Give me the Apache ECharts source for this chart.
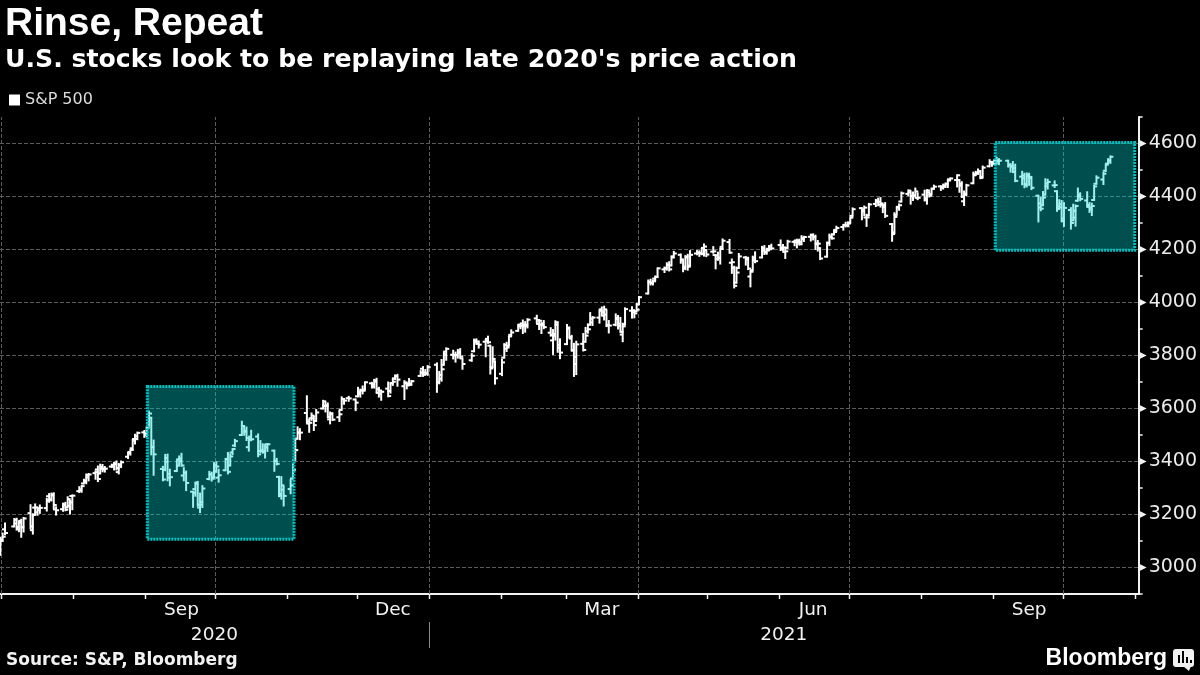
<!DOCTYPE html>
<html><head><meta charset="utf-8">
<script src="https://cdn.jsdelivr.net/npm/echarts@6/dist/echarts.min.js"></script>
<style>html,body{margin:0;padding:0;background:#000;}#c{width:1200px;height:675px;}</style>
</head><body><div id="c"></div>
<script>
// ---- data (S&P 500 daily bars) ----
const dates = [
'2020-06-30','2020-07-01','2020-07-02','2020-07-06','2020-07-07','2020-07-08','2020-07-09','2020-07-10','2020-07-13','2020-07-14','2020-07-15','2020-07-16','2020-07-17','2020-07-20','2020-07-21','2020-07-22','2020-07-23','2020-07-24','2020-07-27','2020-07-28','2020-07-29','2020-07-30','2020-07-31',
'2020-08-03','2020-08-04','2020-08-05','2020-08-06','2020-08-07','2020-08-10','2020-08-11','2020-08-12','2020-08-13','2020-08-14','2020-08-17','2020-08-18','2020-08-19','2020-08-20','2020-08-21','2020-08-24','2020-08-25','2020-08-26','2020-08-27','2020-08-28','2020-08-31',
'2020-09-01','2020-09-02','2020-09-03','2020-09-04','2020-09-08','2020-09-09','2020-09-10','2020-09-11','2020-09-14','2020-09-15','2020-09-16','2020-09-17','2020-09-18','2020-09-21','2020-09-22','2020-09-23','2020-09-24','2020-09-25','2020-09-28','2020-09-29','2020-09-30',
'2020-10-01','2020-10-02','2020-10-05','2020-10-06','2020-10-07','2020-10-08','2020-10-09','2020-10-12','2020-10-13','2020-10-14','2020-10-15','2020-10-16','2020-10-19','2020-10-20','2020-10-21','2020-10-22','2020-10-23','2020-10-26','2020-10-27','2020-10-28','2020-10-29','2020-10-30',
'2020-11-02','2020-11-03','2020-11-04','2020-11-05','2020-11-06','2020-11-09','2020-11-10','2020-11-11','2020-11-12','2020-11-13','2020-11-16','2020-11-17','2020-11-18','2020-11-19','2020-11-20','2020-11-23','2020-11-24','2020-11-25','2020-11-27','2020-11-30',
'2020-12-01','2020-12-02','2020-12-03','2020-12-04','2020-12-07','2020-12-08','2020-12-09','2020-12-10','2020-12-11','2020-12-14','2020-12-15','2020-12-16','2020-12-17','2020-12-18','2020-12-21','2020-12-22','2020-12-23','2020-12-24','2020-12-28','2020-12-29','2020-12-30','2020-12-31',
'2021-01-04','2021-01-05','2021-01-06','2021-01-07','2021-01-08','2021-01-11','2021-01-12','2021-01-13','2021-01-14','2021-01-15','2021-01-19','2021-01-20','2021-01-21','2021-01-22','2021-01-25','2021-01-26','2021-01-27','2021-01-28','2021-01-29',
'2021-02-01','2021-02-02','2021-02-03','2021-02-04','2021-02-05','2021-02-08','2021-02-09','2021-02-10','2021-02-11','2021-02-12','2021-02-16','2021-02-17','2021-02-18','2021-02-19','2021-02-22','2021-02-23','2021-02-24','2021-02-25','2021-02-26',
'2021-03-01','2021-03-02','2021-03-03','2021-03-04','2021-03-05','2021-03-08','2021-03-09','2021-03-10','2021-03-11','2021-03-12','2021-03-15','2021-03-16','2021-03-17','2021-03-18','2021-03-19','2021-03-22','2021-03-23','2021-03-24','2021-03-25','2021-03-26','2021-03-29','2021-03-30','2021-03-31',
'2021-04-01','2021-04-05','2021-04-06','2021-04-07','2021-04-08','2021-04-09','2021-04-12','2021-04-13','2021-04-14','2021-04-15','2021-04-16','2021-04-19','2021-04-20','2021-04-21','2021-04-22','2021-04-23','2021-04-26','2021-04-27','2021-04-28','2021-04-29','2021-04-30',
'2021-05-03','2021-05-04','2021-05-05','2021-05-06','2021-05-07','2021-05-10','2021-05-11','2021-05-12','2021-05-13','2021-05-14','2021-05-17','2021-05-18','2021-05-19','2021-05-20','2021-05-21','2021-05-24','2021-05-25','2021-05-26','2021-05-27','2021-05-28',
'2021-06-01','2021-06-02','2021-06-03','2021-06-04','2021-06-07','2021-06-08','2021-06-09','2021-06-10','2021-06-11','2021-06-14','2021-06-15','2021-06-16','2021-06-17','2021-06-18','2021-06-21','2021-06-22','2021-06-23','2021-06-24','2021-06-25','2021-06-28','2021-06-29','2021-06-30',
'2021-07-01','2021-07-02','2021-07-06','2021-07-07','2021-07-08','2021-07-09','2021-07-12','2021-07-13','2021-07-14','2021-07-15','2021-07-16','2021-07-19','2021-07-20','2021-07-21','2021-07-22','2021-07-23','2021-07-26','2021-07-27','2021-07-28','2021-07-29','2021-07-30',
'2021-08-02','2021-08-03','2021-08-04','2021-08-05','2021-08-06','2021-08-09','2021-08-10','2021-08-11','2021-08-12','2021-08-13','2021-08-16','2021-08-17','2021-08-18','2021-08-19','2021-08-20','2021-08-23','2021-08-24','2021-08-25','2021-08-26','2021-08-27','2021-08-30','2021-08-31',
'2021-09-01','2021-09-02','2021-09-03','2021-09-07','2021-09-08','2021-09-09','2021-09-10','2021-09-13','2021-09-14','2021-09-15','2021-09-16','2021-09-17','2021-09-20','2021-09-21','2021-09-22','2021-09-23','2021-09-24','2021-09-27','2021-09-28','2021-09-29','2021-09-30',
'2021-10-01','2021-10-04','2021-10-05','2021-10-06','2021-10-07','2021-10-08','2021-10-11','2021-10-12','2021-10-13','2021-10-14','2021-10-15','2021-10-18','2021-10-19','2021-10-20','2021-10-21'
];
const opens = [
3050,3106,3144,3155,3166,3153,3176,3152,3205,3141,3226,3208,3224,3224,3269,3255,3272,3219,3220,3234,3227,3232,3270,
3288,3290,3317,3323,3340,3356,3370,3355,3373,3369,3381,3387,3393,3360,3386,3418,3436,3450,3485,3495,3510,
3507,3544,3565,3454,3372,3369,3413,3353,3364,3408,3411,3347,3357,3286,3296,3320,3226,3237,3334,3351,3341,
3386,3339,3367,3409,3385,3434,3460,3500,3534,3515,3454,3494,3494,3439,3440,3439,3465,3441,3403,3342,3277,3294,
3296,3336,3406,3486,3508,3583,3543,3563,3563,3553,3600,3610,3612,3559,3579,3567,3595,3636,3639,3634,
3646,3654,3668,3671,3695,3683,3706,3659,3656,3675,3666,3696,3714,3722,3684,3698,3693,3694,3723,3750,3736,3733,
3765,3698,3712,3765,3815,3803,3802,3802,3815,3789,3782,3816,3857,3844,3852,3863,3837,3756,3778,
3731,3792,3840,3837,3878,3893,3910,3921,3916,3912,3940,3919,3916,3921,3886,3857,3874,3916,3840,
3843,3904,3864,3819,3794,3844,3852,3892,3916,3925,3943,3974,3950,3954,3913,3916,3938,3920,3879,3917,3969,3963,3967,
3993,4034,4076,4074,4090,4096,4125,4130,4142,4140,4174,4180,4159,4128,4170,4139,4185,4188,4185,4206,4198,
4192,4179,4177,4169,4210,4228,4150,4131,4075,4130,4170,4166,4098,4122,4169,4170,4206,4192,4202,4211,
4217,4207,4191,4206,4229,4234,4233,4229,4243,4248,4255,4249,4220,4205,4173,4225,4249,4257,4274,4285,4293,4291,
4301,4327,4356,4351,4321,4329,4372,4381,4380,4369,4367,4296,4265,4331,4361,4381,4410,4416,4403,4404,4395,
4407,4393,4416,4409,4429,4438,4436,4442,4446,4465,4462,4462,4441,4382,4411,4450,4484,4490,4494,4474,4514,4530,
4529,4534,4532,4535,4518,4513,4507,4475,4479,4447,4477,4470,4403,4374,4367,4407,4438,4442,4420,4362,4371,
4317,4349,4310,4320,4384,4407,4385,4368,4358,4387,4448,4464,4497,4524,4532
];
const highs = [
3112,3128,3166,3183,3184,3172,3180,3187,3235,3201,3238,3220,3234,3259,3277,3279,3280,3227,3241,3244,3265,3251,3272,
3303,3307,3331,3351,3353,3363,3381,3388,3387,3379,3388,3395,3400,3391,3400,3432,3444,3481,3501,3509,3515,
3528,3588,3565,3479,3380,3425,3426,3369,3403,3419,3429,3375,3362,3286,3320,3323,3279,3307,3361,3358,3394,
3397,3369,3410,3432,3426,3447,3482,3550,3534,3528,3489,3516,3502,3477,3465,3461,3466,3441,3410,3342,3341,3305,
3330,3389,3486,3529,3522,3646,3557,3581,3569,3594,3629,3623,3619,3585,3581,3590,3642,3636,3644,3634,
3678,3671,3683,3699,3697,3708,3712,3678,3666,3698,3695,3711,3725,3727,3703,3698,3711,3704,3741,3756,3745,3760,
3770,3738,3783,3812,3827,3818,3811,3821,3824,3789,3805,3860,3861,3852,3859,3871,3837,3831,3778,
3784,3843,3848,3872,3895,3916,3918,3932,3926,3937,3950,3934,3922,3930,3903,3896,3929,3925,3861,
3915,3906,3874,3844,3852,3881,3904,3917,3960,3945,3970,3981,3984,3970,3930,3955,3949,3942,3920,3978,3982,3968,3994,
4021,4083,4086,4083,4098,4129,4132,4148,4152,4173,4191,4181,4159,4175,4180,4194,4194,4193,4202,4219,4198,
4209,4179,4188,4203,4238,4236,4162,4135,4132,4183,4172,4169,4117,4173,4189,4210,4213,4203,4213,4218,
4234,4217,4204,4233,4232,4237,4237,4250,4248,4256,4257,4252,4232,4205,4226,4256,4257,4271,4286,4292,4301,4302,
4321,4355,4356,4362,4331,4372,4387,4392,4394,4369,4375,4296,4337,4360,4370,4415,4423,4416,4415,4430,4412,
4422,4424,4416,4430,4441,4439,4445,4449,4462,4468,4480,4462,4454,4419,4444,4490,4493,4502,4496,4513,4537,4531,
4537,4546,4541,4535,4522,4530,4520,4493,4486,4487,4486,4472,4403,4395,4417,4465,4463,4457,4420,4386,4383,
4375,4356,4369,4366,4430,4412,4416,4375,4373,4440,4476,4489,4520,4541,4551
];
const lows = [
3048,3101,3125,3155,3143,3137,3116,3136,3149,3128,3201,3199,3206,3215,3248,3253,3223,3200,3214,3216,3227,3204,3220,
3285,3286,3317,3318,3329,3335,3326,3355,3363,3362,3379,3370,3370,3355,3379,3413,3426,3444,3468,3484,3493,
3495,3535,3427,3350,3329,3367,3329,3310,3364,3389,3384,3329,3292,3229,3271,3233,3209,3228,3333,3328,3340,
3361,3324,3367,3355,3385,3428,3458,3500,3501,3481,3441,3480,3420,3436,3433,3415,3440,3365,3389,3269,3260,3234,
3280,3336,3405,3486,3484,3547,3512,3557,3519,3553,3600,3589,3567,3544,3557,3553,3595,3618,3629,3594,
3646,3645,3657,3671,3679,3679,3661,3645,3633,3646,3660,3689,3711,3686,3636,3676,3689,3689,3723,3723,3730,3727,
3663,3695,3705,3765,3784,3789,3777,3792,3793,3750,3780,3816,3845,3830,3797,3848,3732,3756,3694,
3726,3792,3817,3837,3875,3893,3903,3885,3890,3906,3924,3900,3885,3903,3875,3806,3860,3814,3790,
3843,3869,3819,3723,3730,3819,3852,3886,3916,3915,3924,3953,3936,3911,3887,3914,3902,3889,3854,3917,3943,3944,3967,
3993,4034,4068,4068,4083,4096,4115,4124,4121,4140,4171,4150,4118,4126,4124,4139,4182,4176,4182,4177,4175,
4188,4129,4161,4147,4202,4188,4112,4057,4075,4130,4143,4126,4061,4122,4152,4170,4183,4184,4198,4204,
4198,4198,4168,4206,4216,4208,4219,4220,4232,4234,4238,4202,4196,4164,4173,4217,4241,4257,4271,4275,4287,4288,
4301,4327,4314,4330,4289,4329,4364,4367,4362,4341,4323,4233,4262,4331,4350,4381,4405,4373,4387,4404,4390,
4385,4373,4400,4409,4429,4425,4430,4436,4436,4461,4438,4418,4398,4368,4407,4450,4482,4486,4469,4474,4514,4516,
4522,4525,4522,4513,4494,4492,4458,4446,4435,4438,4444,4428,4306,4348,4367,4407,4430,4436,4346,4355,4306,
4289,4279,4310,4290,4384,4386,4361,4342,4330,4387,4448,4447,4496,4524,4527
];
const closes = [
3100,3116,3130,3180,3145,3170,3152,3185,3155,3198,3227,3216,3225,3252,3257,3276,3236,3216,3239,3218,3258,3246,3271,
3295,3307,3328,3349,3351,3360,3334,3380,3373,3373,3382,3390,3375,3386,3397,3431,3444,3479,3485,3508,3500,
3527,3581,3455,3427,3332,3399,3339,3341,3384,3401,3385,3357,3319,3281,3316,3237,3247,3298,3352,3335,3363,
3381,3348,3409,3361,3419,3447,3477,3534,3512,3489,3483,3484,3427,3443,3436,3453,3465,3401,3391,3271,3310,3270,
3310,3369,3443,3510,3509,3551,3546,3573,3537,3585,3627,3610,3568,3582,3558,3578,3635,3630,3638,3622,
3662,3669,3667,3699,3692,3702,3673,3668,3663,3647,3695,3701,3722,3709,3695,3687,3690,3703,3735,3727,3732,3756,
3701,3727,3748,3804,3825,3800,3801,3810,3796,3768,3799,3852,3853,3841,3855,3850,3751,3787,3714,
3774,3826,3830,3872,3887,3916,3911,3910,3916,3935,3933,3931,3914,3907,3877,3881,3925,3829,3811,
3902,3870,3820,3768,3842,3821,3875,3899,3939,3943,3969,3963,3974,3915,3913,3941,3911,3889,3910,3975,3971,3959,3973,
4020,4078,4074,4080,4097,4129,4128,4142,4125,4170,4185,4163,4135,4173,4135,4180,4188,4187,4183,4211,4181,
4193,4165,4168,4202,4233,4188,4152,4063,4113,4174,4163,4128,4116,4159,4156,4197,4188,4196,4201,4204,
4202,4208,4193,4230,4227,4227,4220,4239,4247,4255,4247,4224,4222,4166,4225,4246,4242,4266,4281,4291,4292,4298,
4320,4352,4344,4358,4321,4370,4385,4369,4374,4360,4327,4258,4323,4359,4367,4412,4422,4401,4401,4419,4395,
4387,4423,4403,4429,4437,4432,4437,4448,4461,4468,4480,4448,4400,4406,4442,4480,4486,4496,4470,4509,4529,4523,
4524,4537,4535,4520,4514,4493,4459,4469,4443,4481,4474,4433,4358,4354,4396,4449,4455,4443,4353,4359,4308,
4357,4300,4346,4364,4400,4391,4361,4351,4364,4438,4471,4486,4520,4536,4550
];
const seriesName = 'S&P 500';
const yGridValues = [3000, 3200, 3400, 3600, 3800, 4000, 4200, 4400, 4600];
const monthStarts = ['2020-07-01','2020-08-01','2020-09-01','2020-10-01','2020-11-01','2020-12-01','2021-01-01','2021-02-01','2021-03-01','2021-04-01','2021-05-01','2021-06-01','2021-07-01','2021-08-01','2021-09-01','2021-10-01','2021-11-01'];
const quarterStarts = ['2020-07-01','2020-10-01','2021-01-01','2021-04-01','2021-07-01','2021-10-01'];
const monthLabels = ['Sep', 'Dec', 'Mar', 'Jun', 'Sep'];
const monthLabelDates = ['2020-09-16', '2020-12-16', '2021-03-16', '2021-06-15', '2021-09-16'];
const yearLabels = ['2020', '2021'];
const yearBreak = '2021-01-01';
const boxStarts = ['2020-09-01T19:00', '2021-09-01T22:00'];
const boxEnds = ['2020-11-03T23:00', '2021-11-01T00:00'];
const boxLows = [3107, 4197];
const boxHighs = [3683, 4604];
const xStart = '2020-06-30T08:30';
const xEnd = '2021-11-02T16:00';

// ---- helpers ----
function ts(s) {
  const m = s.match(/(\d+)-(\d+)-(\d+)(?:T(\d+):(\d+))?/);
  return new Date(+m[1], +m[2] - 1, +m[3], m[4] !== undefined ? +m[4] : 12, m[5] !== undefined ? +m[5] : 0).getTime();
}
const day0 = s => ts(s + 'T00:00');

const barData = dates.map((d, i) => [ts(d), opens[i], highs[i], lows[i], closes[i]]);
const boxData = boxStarts.map((s, i) => [ts(s), ts(boxEnds[i]), boxLows[i], boxHighs[i]]);

const GRID = { left: 0, right: 61, top: 117, bottom: 81 };
const gridColor = '#5c5c5c';

const chart = echarts.init(document.getElementById('c'), null, { renderer: 'canvas' });
const option = {
  backgroundColor: '#000',
  animation: false,
  textStyle: { fontFamily: 'DejaVu Sans' },
  grid: GRID,
  legend: {
    data: [{ name: seriesName, icon: 'rect' }],
    left: 9, top: 92, padding: 0, itemWidth: 11, itemHeight: 11, itemGap: 5,
    selectedMode: false,
    textStyle: { color: '#dcdcdc', fontFamily: 'DejaVu Sans', fontSize: 16 }
  },
  xAxis: {
    type: 'time', min: ts(xStart), max: ts(xEnd),
    axisLine: { show: true, lineStyle: { color: '#f2f2f2', width: 2 } },
    axisTick: { show: false }, axisLabel: { show: false }, splitLine: { show: false }
  },
  yAxis: {
    type: 'value', position: 'right', min: 2900, max: 4700, interval: 100,
    axisLine: { show: true, lineStyle: { color: '#f2f2f2', width: 2 } },
    axisTick: { show: true, length: 4, lineStyle: { color: '#f2f2f2', width: 1.5 } },
    axisLabel: {
      margin: 10, color: '#ececec', fontFamily: 'DejaVu Sans', fontSize: 19,
      formatter: v => (yGridValues.indexOf(v) >= 0 ? String(v) : '')
    },
    splitLine: { show: false }
  },
  series: [
    {
      name: seriesName, type: 'custom', z: 3, clip: true,
      itemStyle: { color: '#ffffff' },
      encode: { x: 0, y: [1, 2, 3, 4] },
      data: barData,
      renderItem: (params, api) => {
        const x = api.value(0);
        const o = api.coord([x, api.value(1)]);
        const h = api.coord([x, api.value(2)]);
        const l = api.coord([x, api.value(3)]);
        const c = api.coord([x, api.value(4)]);
        const st = { stroke: '#ffffff', lineWidth: 2 };
        return {
          type: 'group', children: [
            { type: 'line', shape: { x1: h[0], y1: h[1] - 1, x2: l[0], y2: l[1] + 1 }, style: st },
            { type: 'line', shape: { x1: o[0] - 3, y1: o[1], x2: o[0], y2: o[1] }, style: st },
            { type: 'line', shape: { x1: c[0], y1: c[1], x2: c[0] + 3, y2: c[1] }, style: st }
          ]
        };
      },
      markLine: {
        silent: true, z: 1, symbol: ['none', 'none'], label: { show: false }, animation: false,
        lineStyle: { color: gridColor, type: [4, 2], width: 1 },
        emphasis: { disabled: true },
        data: yGridValues.map(v => ({ yAxis: v })).concat(quarterStarts.map(d => ({ xAxis: day0(d) })))
      }
    },
    {
      name: 'highlight', type: 'custom', z: 10, silent: true,
      encode: { x: [0, 1], y: [2, 3] },
      data: boxData,
      renderItem: (params, api) => {
        const p1 = api.coord([api.value(0), api.value(3)]);
        const p2 = api.coord([api.value(1), api.value(2)]);
        return {
          type: 'rect',
          shape: { x: p1[0], y: p1[1], width: p2[0] - p1[0], height: p2[1] - p1[1] },
          style: { fill: 'rgba(0,215,215,0.37)', stroke: '#00c4c4', lineWidth: 3, lineDash: [2, 1] }
        };
      }
    }
  ]
};
chart.setOption(option);

// ---- axis decorations & texts placed through the chart's own scales ----
const px = v => chart.convertToPixel({ xAxisIndex: 0 }, v);
const py = v => chart.convertToPixel({ yAxisIndex: 0 }, v);
const axisX = px(ts(xEnd));
const axisY = py(2900);
const g = [];
function txt(text, x, y, font, fill, align) {
  g.push({ type: 'text', z: 100, style: { text, x, y, font, fill, textAlign: align || 'left', align: align || 'left', textVerticalAlign: 'middle', verticalAlign: 'middle' } });
}
monthStarts.forEach(d => {
  const x = Math.round(px(day0(d))) + 0.5;
  g.push({ type: 'line', z: 100, shape: { x1: x, y1: axisY, x2: x, y2: axisY + 5 }, style: { stroke: '#f2f2f2', lineWidth: 1.5 } });
});
yGridValues.forEach(v => {
  const y = py(v);
  g.push({ type: 'polygon', z: 100, shape: { points: [[axisX + 1, y - 3.5], [axisX + 8, y], [axisX + 1, y + 3.5]] }, style: { fill: '#f2f2f2' } });
});
monthLabels.forEach((m, i) => txt(m, px(ts(monthLabelDates[i])), 610, '18.5px "DejaVu Sans"', '#f2f2f2', 'center'));
const xb = px(day0(yearBreak));
txt(yearLabels[0], (px(ts(xStart)) + xb) / 2, 635, '18.5px "DejaVu Sans"', '#f2f2f2', 'center');
txt(yearLabels[1], (xb + axisX) / 2, 635, '18.5px "DejaVu Sans"', '#f2f2f2', 'center');
g.push({ type: 'line', z: 100, shape: { x1: Math.round(xb) + 0.5, y1: 622, x2: Math.round(xb) + 0.5, y2: 648 }, style: { stroke: '#8a8a8a', lineWidth: 1 } });

txt('Rinse, Repeat', 5, 24, 'bold 39px "Liberation Sans"', '#ffffff');
txt("U.S. stocks look to be replaying late 2020's price action", 5, 60, 'bold 25.2px "DejaVu Sans"', '#ffffff');
txt('Source: S&P, Bloomberg', 6, 661, 'bold 17px "DejaVu Sans"', '#f2f2f2');
txt('Bloomberg', 1167, 659, 'bold 23px "Liberation Sans"', '#ffffff', 'right');
// logo mark
g.push({ type: 'rect', z: 100, shape: { x: 1173, y: 649, width: 21, height: 18, r: 3 }, style: { fill: '#f2f2f2' } });
g.push({ type: 'polygon', z: 100, shape: { points: [[1183, 666], [1191, 666], [1189, 671]] }, style: { fill: '#f2f2f2' } });
[[1178, 8], [1182, 12], [1186, 6], [1190, 3]].forEach(b => g.push({ type: 'rect', z: 101, shape: { x: b[0], y: 663 - b[1], width: 2, height: b[1] }, style: { fill: '#000' } }));

chart.setOption({ graphic: { elements: g } });
</script>
</body></html>
